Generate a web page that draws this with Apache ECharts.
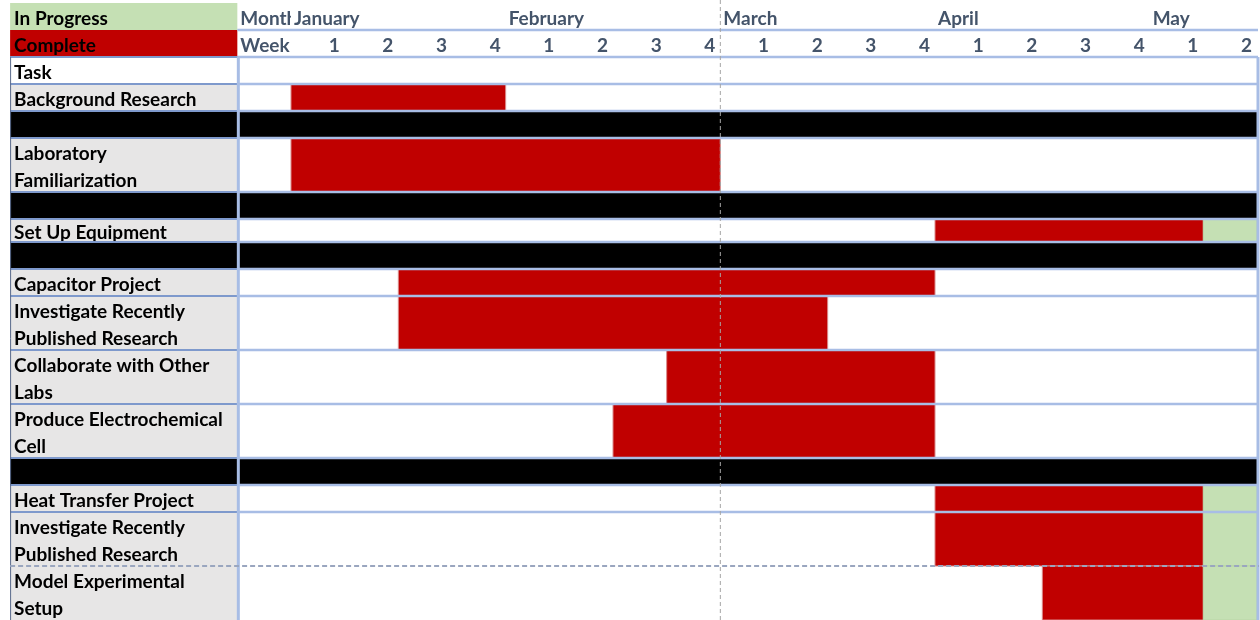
<!DOCTYPE html>
<html><head><meta charset="utf-8">
<script src="https://cdn.jsdelivr.net/npm/echarts@6/dist/echarts.min.js"></script>
<style>html,body{margin:0;padding:0;background:#fff}#c{width:1260px;height:620px}</style>
</head><body><div id="c"></div>
<script>
// ---------- data ----------
const months = ['January', 'February', 'March', 'April', 'May'];
const weeksPerMonth = [4, 4, 4, 4, 2];
const legendLabels = ['In Progress', 'Complete'];
const headerLabels = ['Month', 'Week', 'Task'];
const taskNames = [
  'Background Research', '', 'Laboratory\nFamiliarization', '', 'Set Up Equipment', '',
  'Capacitor Project', 'Investigate Recently\nPublished Research', 'Collaborate with Other\nLabs',
  'Produce Electrochemical\nCell', '', 'Heat Transfer Project',
  'Investigate Recently\nPublished Research', 'Model Experimental\nSetup'
];
// week index (0 = January week 1); end is exclusive; null = none
const completeStart = [0, null, 0, null, 12, null, 2, 2, 7, 6, null, 12, 12, 14];
const completeEnd   = [4, null, 8, null, 17, null, 12, 10, 12, 12, null, 17, 17, 17];
const progressStart = [null, null, null, null, 17, null, null, null, null, null, null, 17, 17, 17];
const progressEnd   = [null, null, null, null, 18, null, null, null, null, null, null, 18, 18, 18];

// ---------- derived ----------
const weekLabels = [];
const monthStart = [];
weeksPerMonth.forEach((n, k) => { monthStart.push(weekLabels.length); for (let w = 1; w <= n; w++) weekLabels.push(String(w)); });
const NWEEKS = weekLabels.length;

// ---------- layout ----------
const FIRST_TASK_ROW = 3;
const rowUnits = [1, 1, 1, 1, 1, 2, 1, 0.85, 1, 1, 2, 2, 2, 1, 1, 2, 2];
const rowTop = []; let acc = 0;
rowUnits.forEach(u => { rowTop.push(acc); acc += u; });
const TOTAL = acc;
const LABEL_X = -5.234;   // left edge of label column in week units
const WEEK_X = -1;        // left edge of "Week" column
const PAGEBREAK_ROW = 16; // dashed page break above this row
const FONT = 'bold 19px Lato';
const TEXT_DY = 2.5;
const GREEN = '#C5E0B4', RED = '#C00000', GRAY = '#E7E6E6', HEAD = '#44546A';
const LINE = '#A8BDE5', LINE_DARK = '#7E99CC';

const rowData = rowUnits.map((u, i) => [i]);
function rowY(api, i) {
  return [api.coord([0, rowTop[i]])[1], api.coord([0, rowTop[i] + rowUnits[i]])[1]];
}

function renderRow(params, api) {
  const i = api.value(0);
  const [y0, y1] = rowY(api, i);
  const xL = api.coord([LABEL_X, 0])[0], xW = api.coord([WEEK_X, 0])[0], xR = api.coord([NWEEKS, 0])[0];
  let labelFill = GRAY, areaFill = '#fff', text = '';
  if (i === 0) { labelFill = GREEN; text = legendLabels[0]; }
  else if (i === 1) { labelFill = RED; text = legendLabels[1]; }
  else if (i === 2) { labelFill = '#fff'; text = headerLabels[2]; }
  else {
    text = taskNames[i - FIRST_TASK_ROW];
    if (text === '') { labelFill = '#000'; areaFill = '#000'; }
  }
  const children = [
    { type: 'rect', shape: { x: xL, y: y0, width: xW - xL, height: y1 - y0 }, style: { fill: labelFill } },
  ];
  if (i >= 2) children.push({ type: 'rect', shape: { x: xW, y: y0, width: xR - xW, height: y1 - y0 }, style: { fill: areaFill } });
  if (text) children.push({
    type: 'text',
    style: { text: text, x: xL + 4, y: (y0 + y1) / 2 + TEXT_DY, fill: '#000', font: FONT,
      align: 'left', verticalAlign: 'middle', lineHeight: (y1 - y0) / rowUnits[i] }
  });
  return { type: 'group', children };
}

function barRender(color, stroke) {
  return function (params, api) {
    const s = api.value(0), e = api.value(1), r = api.value(2);
    const p0 = api.coord([s, rowTop[r]]), p1 = api.coord([e, rowTop[r] + rowUnits[r]]);
    return { type: 'rect', shape: { x: p0[0], y: p0[1], width: p1[0] - p0[0], height: p1[1] - p0[1] },
      style: { fill: color, stroke: stroke, lineWidth: 1 } };
  };
}
const completeData = [], progressData = [];
taskNames.forEach((t, k) => {
  if (completeStart[k] !== null) completeData.push([completeStart[k], completeEnd[k], k + FIRST_TASK_ROW]);
  if (progressStart[k] !== null) progressData.push([progressStart[k], progressEnd[k], k + FIRST_TASK_ROW]);
});

function renderBorders(params, api) {
  const xL = api.coord([LABEL_X, 0])[0], xW = api.coord([WEEK_X, 0])[0], xR = api.coord([NWEEKS, 0])[0];
  const yTop = api.coord([0, rowTop[2]])[1], yBot = api.coord([0, TOTAL])[1];
  const ch = [];
  for (let i = 1; i < rowUnits.length; i++) {
    if (i === PAGEBREAK_ROW) continue;
    const y = api.coord([0, rowTop[i]])[1];
    ch.push({ type: 'line', shape: { x1: xW, y1: y, x2: xR + 1, y2: y }, style: { stroke: LINE, lineWidth: 2.5 } });
    if (i >= 2) ch.push({ type: 'line', shape: { x1: xL, y1: y, x2: xW, y2: y }, style: { stroke: LINE_DARK, lineWidth: 2 } });
  }
  ch.push({ type: 'line', shape: { x1: xW + 1, y1: yTop, x2: xW + 1, y2: yBot }, style: { stroke: LINE, lineWidth: 3 } });
  ch.push({ type: 'line', shape: { x1: xR + 1, y1: yTop, x2: xR + 1, y2: yBot }, style: { stroke: LINE, lineWidth: 3 } });
  ch.push({ type: 'line', shape: { x1: xL + 0.5, y1: yTop, x2: xL + 0.5, y2: yBot }, style: { stroke: '#5A6B8C', lineWidth: 1 } });
  return { type: 'group', children: ch };
}

function renderCaption(params, api) {
  const r = api.value(0);
  const [y0, y1] = rowY(api, r);
  const x = api.coord([WEEK_X, 0])[0];
  return { type: 'text', style: { text: headerLabels[r], x: x + 3, y: (y0 + y1) / 2 + TEXT_DY, fill: HEAD,
    font: FONT, align: 'left', verticalAlign: 'middle' } };
}
function renderMonth(params, api) {
  const w = api.value(0), k = api.value(1);
  const [y0, y1] = rowY(api, 0);
  const x0 = api.coord([w, 0])[0], x1 = api.coord([w + 1, 0])[0];
  return { type: 'group', children: [
    { type: 'rect', shape: { x: x0, y: y0, width: x1 - x0, height: y1 - y0 - 2 }, style: { fill: '#fff' } },
    { type: 'text', style: { text: months[k], x: x0 + 3, y: (y0 + y1) / 2 + TEXT_DY, fill: HEAD,
      font: FONT, align: 'left', verticalAlign: 'middle' } }
  ] };
}
function renderWeek(params, api) {
  const w = api.value(0), j = api.value(1);
  const [y0, y1] = rowY(api, 1);
  const x = api.coord([w, 0])[0];
  return { type: 'text', style: { text: weekLabels[j], x: x - 5, y: (y0 + y1) / 2 + TEXT_DY, fill: HEAD,
    font: FONT, align: 'right', verticalAlign: 'middle' } };
}
function renderBreaks(params, api) {
  const xL = api.coord([LABEL_X, 0])[0], xR = api.coord([NWEEKS, 0])[0];
  const xm = api.coord([monthStart[2], 0])[0];
  const yb = api.coord([0, rowTop[PAGEBREAK_ROW]])[1];
  return { type: 'group', children: [
    { type: 'line', shape: { x1: xL, y1: yb, x2: xR + 2, y2: yb }, style: { stroke: '#9AA6BF', lineWidth: 2, lineDash: [5, 3] } },
    { type: 'line', shape: { x1: xm, y1: 0, x2: xm, y2: 620 }, style: { stroke: '#A5A5A5', lineWidth: 1, lineDash: [4, 3] } }
  ] };
}

const chart = echarts.init(document.getElementById('c'));
chart.setOption({
  animation: false,
  backgroundColor: '#fff',
  grid: { left: 291, right: 3, top: 3, height: 619 },
  xAxis: { type: 'value', min: 0, max: NWEEKS, show: false },
  yAxis: { type: 'value', min: 0, max: TOTAL, inverse: true, show: false },
  series: [
    { type: 'custom', name: 'rows', z: 1, clip: false, renderItem: renderRow, data: rowData },
    { type: 'custom', name: 'Complete', z: 2, clip: false, renderItem: barRender(RED, '#D98A8A'), data: completeData },
    { type: 'custom', name: 'In Progress', z: 2, clip: false, renderItem: barRender(GREEN, '#B9D6A6'), data: progressData },
    { type: 'custom', name: 'borders', z: 3, clip: false, renderItem: renderBorders, data: [[0]] },
    { type: 'custom', name: 'captions', z: 4, clip: false, renderItem: renderCaption, data: [[0], [1]] },
    { type: 'custom', name: 'months', z: 5, clip: false, renderItem: renderMonth, data: months.map((m, k) => [monthStart[k], k]) },
    { type: 'custom', name: 'weeks', z: 5, clip: false, renderItem: renderWeek, data: weekLabels.map((w, j) => [j + 1, j]) },
    { type: 'custom', name: 'breaks', z: 6, clip: false, renderItem: renderBreaks, data: [[0]] }
  ]
});
</script></body></html>
